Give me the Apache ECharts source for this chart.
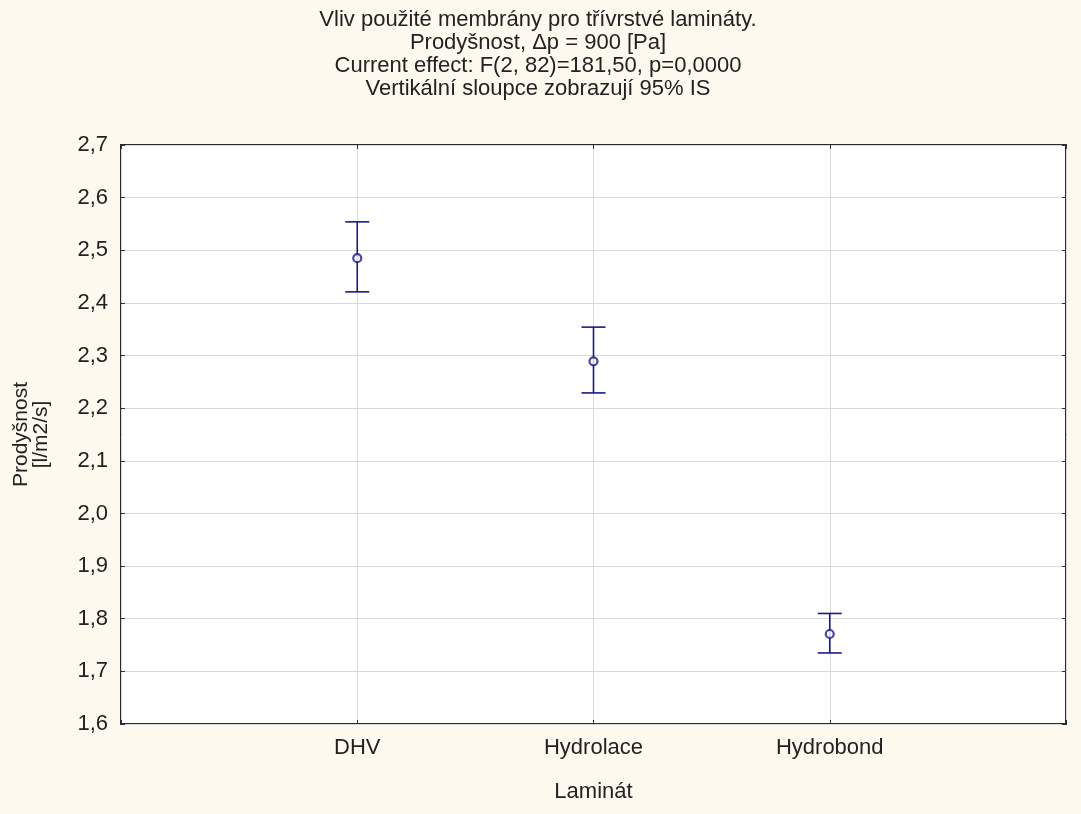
<!DOCTYPE html>
<html><head><meta charset="utf-8">
<script src="https://cdn.jsdelivr.net/npm/echarts@6/dist/echarts.min.js"></script>
<style>html,body{margin:0;padding:0;background:#fdf9ee;}#c{width:1081px;height:814px;}</style>
</head><body><div id="c"></div>
<script>
const categories = ['DHV', 'Hydrolace', 'Hydrobond'];
const means = [2.485, 2.289, 1.771];
const lower = [2.421, 2.229, 1.735];
const upper = [2.554, 2.354, 1.810];
const yTicks = { min: 1.6, max: 2.7, interval: 0.1 };
const titleLines = ['Vliv použité membrány pro třívrstvé lamináty.', 'Prodyšnost, \u0394p = 900 [Pa]', 'Current effect: F(2, 82)=181,50, p=0,0000', 'Vertikální sloupce zobrazují 95% IS'];

const axisCats = [''].concat(categories).concat(['']);
const font = '"Liberation Sans", Arial, sans-serif';
const ec = '#1a1a84';
const chart = echarts.init(document.getElementById('c'));
const errData = categories.map((c, i) => [i + 1, lower[i], upper[i]]);
const meanData = categories.map((c, i) => [i + 1, means[i]]);
const fmt = v => v.toFixed(1).replace('.', ',');
chart.setOption({
  backgroundColor: '#fdf9ee',
  animation: false,
  title: {
    text: titleLines.join('\n'), left: 533, top: 3, textAlign: 'center',
    textStyle: { fontFamily: font, fontSize: 22, fontWeight: 'normal', color: '#222', lineHeight: 23 }
  },
  grid: { left: 121, right: 15, top: 145, bottom: 90, show: true, backgroundColor: '#fff', borderColor: '#2a2a2a', borderWidth: 2 },
  xAxis: [{
    type: 'category', data: axisCats, boundaryGap: false,
    name: 'Laminát', nameLocation: 'middle', nameGap: 57,
    nameTextStyle: { fontFamily: font, fontSize: 22, color: '#222' },
    axisLine: { show: false },
    axisTick: { inside: true, length: 4, lineStyle: { color: '#333' } },
    axisLabel: { fontFamily: font, fontSize: 22, color: '#222', margin: 13 },
    splitLine: { show: true, lineStyle: { color: '#d9d9d9', width: 1 } }
  }, {
    type: 'category', data: axisCats, boundaryGap: false, position: 'top',
    axisLine: { show: false }, axisLabel: { show: false },
    axisTick: { inside: true, length: 4, lineStyle: { color: '#333' } }
  }],
  yAxis: [{
    type: 'value', min: yTicks.min, max: yTicks.max, interval: yTicks.interval,
    name: 'Prodyšnost\n[l/m2/s]', nameLocation: 'middle', nameGap: 70, nameRotate: 90,
    nameTextStyle: { fontFamily: font, fontSize: 21, color: '#222', lineHeight: 20 },
    axisLine: { show: false },
    axisTick: { show: true, inside: true, length: 4, lineStyle: { color: '#333' } },
    axisLabel: { fontFamily: font, fontSize: 22, color: '#222', margin: 13, formatter: fmt },
    splitLine: { show: true, lineStyle: { color: '#d9d9d9', width: 1 } }
  }, {
    type: 'value', min: yTicks.min, max: yTicks.max, interval: yTicks.interval, position: 'right',
    axisLine: { show: false }, axisLabel: { show: false }, splitLine: { show: false },
    axisTick: { show: true, inside: true, length: 4, lineStyle: { color: '#333' } }
  }],
  series: [{
    type: 'custom',
    data: errData,
    renderItem: function (params, api) {
      const x = api.value(0);
      const lo = api.coord([x, api.value(1)]);
      const hi = api.coord([x, api.value(2)]);
      const hw = 12;
      const st = { stroke: ec, lineWidth: 1.6 };
      return { type: 'group', children: [
        { type: 'line', shape: { x1: lo[0], y1: lo[1], x2: hi[0], y2: hi[1] }, style: st },
        { type: 'line', shape: { x1: lo[0] - hw, y1: lo[1], x2: lo[0] + hw, y2: lo[1] }, style: st },
        { type: 'line', shape: { x1: hi[0] - hw, y1: hi[1], x2: hi[0] + hw, y2: hi[1] }, style: st }
      ]};
    },
    z: 2
  }, {
    type: 'scatter', data: meanData, symbol: 'circle', symbolSize: 8,
    itemStyle: { color: '#fff', borderColor: ec, borderWidth: 2.2 }, z: 3
  }]
});
</script></body></html>
